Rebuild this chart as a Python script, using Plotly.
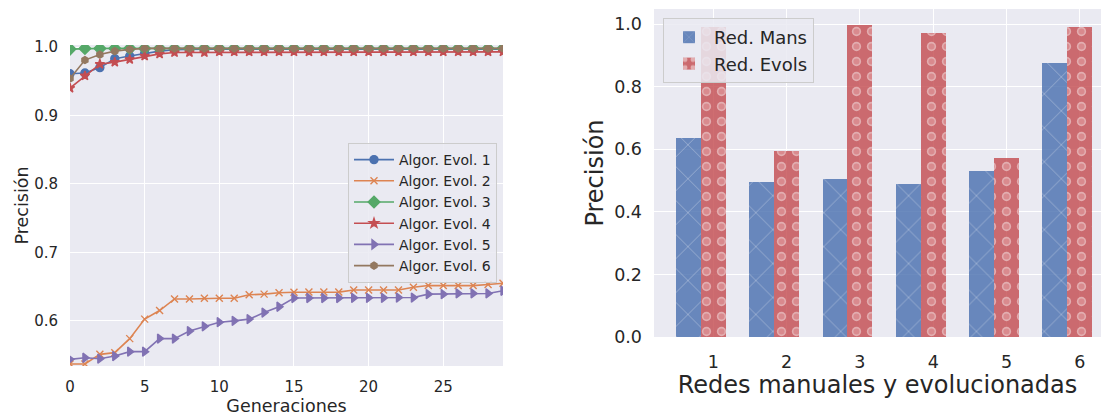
import plotly.graph_objects as go

# ---------------- data ----------------
generations = list(range(30))
algo_names = ["Algor. Evol. 1", "Algor. Evol. 2", "Algor. Evol. 3",
              "Algor. Evol. 4", "Algor. Evol. 5", "Algor. Evol. 6"]
algo1 = [0.961, 0.962, 0.970, 0.983, 0.987, 0.991, 0.994, 0.996, 0.997, 0.997,
         0.997, 0.997, 0.997, 0.997, 0.997, 0.997, 0.997, 0.997, 0.997, 0.997,
         0.997, 0.997, 0.997, 0.997, 0.997, 0.997, 0.997, 0.997, 0.997, 0.997]
algo2 = [0.537, 0.537, 0.551, 0.5535, 0.574, 0.6025, 0.615, 0.632, 0.632, 0.633,
         0.633, 0.633, 0.638, 0.639, 0.641, 0.6417, 0.642, 0.642, 0.642, 0.645,
         0.645, 0.645, 0.645, 0.649, 0.6515, 0.6515, 0.6515, 0.6515, 0.653, 0.655]
algo3 = [0.997] + [0.998] * 29
algo4 = [0.940, 0.958, 0.975, 0.978, 0.982, 0.987, 0.990, 0.992, 0.992, 0.992,
         0.993, 0.993, 0.993, 0.993, 0.993, 0.993, 0.993, 0.993, 0.993, 0.993,
         0.993, 0.993, 0.993, 0.993, 0.993, 0.993, 0.993, 0.993, 0.993, 0.993]
algo5 = [0.5437, 0.546, 0.5447, 0.5485, 0.555, 0.555, 0.574, 0.574, 0.585, 0.592,
         0.598, 0.600, 0.6025, 0.612, 0.6206, 0.6334, 0.6334, 0.6334, 0.6334, 0.6336,
         0.6336, 0.6336, 0.634, 0.634, 0.639, 0.639, 0.640, 0.640, 0.640, 0.644]
algo6 = [0.954, 0.981, 0.989, 0.994, 0.9966, 0.998, 0.998, 0.998, 0.998, 0.998,
         0.998, 0.998, 0.998, 0.998, 0.998, 0.998, 0.998, 0.998, 0.998, 0.998,
         0.998, 0.998, 0.998, 0.998, 0.998, 0.998, 0.998, 0.998, 0.998, 0.998]

redes = [1, 2, 3, 4, 5, 6]
red_mans = [0.637, 0.496, 0.505, 0.489, 0.530, 0.876]
red_evols = [0.991, 0.594, 0.997, 0.970, 0.573, 0.991]

left_yticks = [0.6, 0.7, 0.8, 0.9, 1.0]
left_xticks = [0, 5, 10, 15, 20, 25]
right_yticks = [0.0, 0.2, 0.4, 0.6, 0.8, 1.0]

# ---------------- style ----------------
colors = ["#4C72B0", "#DD8452", "#55A868", "#C44E52", "#8172B3", "#937860"]
symbols = ["circle", "x-thin-open", "diamond", "star", "triangle-right", "hexagon"]
sizes = [8, 7, 9, 7, 8, 7]
series = [algo1, algo2, algo3, algo4, algo5, algo6]
TXT = "#262626"
BG = "#EAEAF2"
FONT = "DejaVu Sans"
W, H = 1101, 416

fig = go.Figure()

for name, ys, c, s, sz in zip(algo_names, series, colors, symbols, sizes):
    fig.add_trace(go.Scatter(
        x=generations, y=ys, name=name, mode="lines+markers",
        line=dict(color=c, width=1.6),
        marker=dict(symbol=s, size=sz, color=c, line=dict(color=c, width=1.4)),
        xaxis="x", yaxis="y", legend="legend", cliponaxis=True,
    ))

bw = 0.34
blue = "rgba(76,114,176,0.82)"
red = "rgba(196,78,82,0.82)"
fig.add_trace(go.Bar(
    x=redes, y=red_mans, name="Red. Mans", width=bw, offset=-1.5 * bw,
    marker=dict(color=blue, line=dict(width=0),
                pattern=dict(shape="x", fgcolor="rgba(255,255,255,0.7)",
                             size=24, solidity=0.07)),
    xaxis="x2", yaxis="y2", legend="legend2",
))
fig.add_trace(go.Bar(
    x=redes, y=red_evols, name="Red. Evols", width=bw, offset=-0.5 * bw,
    marker=dict(color=red, line=dict(width=0),
                pattern=dict(shape=".", fgcolor="rgba(255,255,255,0.9)",
                             size=15, solidity=0.30)),
    xaxis="x2", yaxis="y2", legend="legend2",
))
# inner dots to turn the white dots into rings
fig.add_trace(go.Bar(
    x=redes, y=red_evols, name="Red. Evols", width=bw, offset=-0.5 * bw,
    marker=dict(color="rgba(0,0,0,0)", line=dict(width=0),
                pattern=dict(shape=".", fgcolor="rgb(208,104,108)", bgcolor="rgba(0,0,0,0)",
                             size=15, solidity=0.13)),
    xaxis="x2", yaxis="y2", showlegend=False, hoverinfo="skip",
))

def px_x(a, b):
    return [a / W, b / W]

def px_y(top, bottom):
    return [(H - bottom) / H, (H - top) / H]

axis_common = dict(showgrid=True, gridcolor="white", gridwidth=1.2, zeroline=False,
                   showline=False, ticks="", automargin=False)

fig.update_layout(
    width=W, height=H,
    margin=dict(l=0, r=0, t=0, b=0, autoexpand=False),
    paper_bgcolor="white", plot_bgcolor=BG,
    font=dict(family=FONT, color=TXT),
    barmode="overlay", bargap=0,
    xaxis=dict(domain=px_x(70, 503), range=[0, 29], tickvals=left_xticks,
               tickfont=dict(size=15, color=TXT), ticklabelstandoff=10,
               title=dict(text="Generaciones", font=dict(size=17.5, color=TXT), standoff=6),
               anchor="y", **axis_common),
    yaxis=dict(domain=px_y(45, 366), range=[0.534, 1.003], tickvals=left_yticks,
               tickformat=".1f", tickfont=dict(size=15, color=TXT), ticklabelstandoff=11,
               title=dict(text="Precisión", font=dict(size=17.5, color=TXT), standoff=1),
               anchor="x", **axis_common),
    xaxis2=dict(domain=px_x(654, 1101), range=[0.19, 6.29], tickvals=redes,
                tickfont=dict(size=17.5, color=TXT), ticklabelstandoff=12,
                title=dict(text="Redes manuales y evolucionadas", font=dict(size=24, color=TXT), standoff=3),
                anchor="y2", **axis_common),
    yaxis2=dict(domain=px_y(9, 337), range=[0, 1.048], tickvals=right_yticks,
                tickformat=".1f", tickfont=dict(size=17.5, color=TXT), ticklabelstandoff=11,
                title=dict(text="Precisión", font=dict(size=24, color=TXT), standoff=3),
                anchor="x2", **axis_common),
    legend=dict(x=348 / W, y=(H - 143) / H, xanchor="left", yanchor="top",
                bgcolor="rgba(234,234,242,0.85)", bordercolor="#CCCCCC", borderwidth=1,
                font=dict(size=14, color=TXT), tracegroupgap=0, itemwidth=40),
    legend2=dict(x=663 / W, y=(H - 18) / H, xanchor="left", yanchor="top",
                 bgcolor="rgba(234,234,242,0.85)", bordercolor="#CCCCCC", borderwidth=1,
                 font=dict(size=18, color=TXT), tracegroupgap=0, itemwidth=40),
)

fig.write_html("out.html", config={"displayModeBar": False},
               post_script="document.body.style.margin='0px';")
